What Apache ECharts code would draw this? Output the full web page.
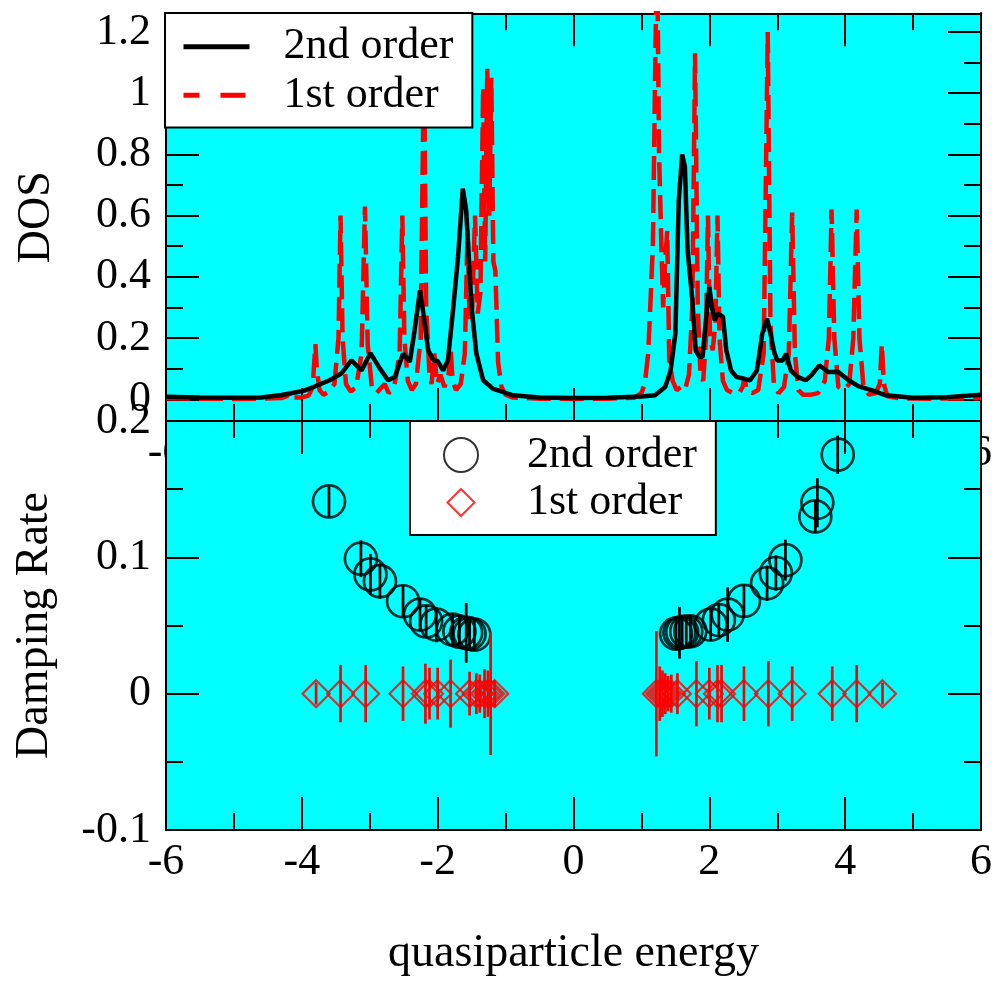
<!DOCTYPE html>
<html><head><meta charset="utf-8">
<script src="https://cdn.jsdelivr.net/npm/echarts@6/dist/echarts.min.js"></script>
<style>html,body{margin:0;padding:0;background:#fff}#c{width:995px;height:981px}</style>
</head><body><div id="c"></div>
<script>
// ---- DOS, 2nd order (black solid) ----
const dosE2 = [-6.0,-5.5,-5.0,-4.6,-4.3,-4.0,-3.83,-3.59,-3.42,-3.27,
  -3.12,-2.99,-2.85,-2.73,-2.63,-2.51,-2.41,-2.34,-2.26,-2.21,
  -2.14,-2.06,-2.00,-1.92,-1.85,-1.77,-1.70,-1.63,-1.58,-1.50,
  -1.43,-1.33,-1.19,-0.89,-0.5,0,0.5,1.0,1.2,1.35,
  1.43,1.50,1.55,1.60,1.64,1.68,1.75,1.80,1.85,1.90,
  1.95,2.00,2.04,2.08,2.12,2.20,2.25,2.32,2.40,2.60,
  2.70,2.78,2.85,2.90,2.96,3.00,3.08,3.13,3.20,3.30,
  3.42,3.50,3.62,3.75,3.90,4.05,4.20,4.40,4.60,5.0,
  5.5,6.0];
const dos2 = [0.008,0.006,0.005,0.006,0.014,0.026,0.040,0.062,0.084,0.127,
  0.094,0.151,0.100,0.062,0.073,0.149,0.122,0.225,0.356,0.280,
  0.160,0.127,0.125,0.094,0.127,0.300,0.465,0.688,0.617,0.300,
  0.149,0.062,0.035,0.013,0.006,0.004,0.005,0.009,0.013,0.040,
  0.094,0.215,0.650,0.800,0.760,0.487,0.323,0.160,0.140,0.138,
  0.258,0.367,0.300,0.258,0.280,0.270,0.160,0.094,0.073,0.062,
  0.094,0.215,0.263,0.215,0.150,0.127,0.127,0.149,0.094,0.073,
  0.062,0.078,0.111,0.089,0.089,0.062,0.042,0.029,0.013,0.005,
  0.007,0.015];

// ---- DOS, 1st order (red dashed) ----
const dosE1 = [-6.0,-5.5,-5.0,-4.6,-4.3,-4.22,-4.18,-4.12,-4.0,-3.9,
  -3.84,-3.80,-3.78,-3.74,-3.68,-3.6,-3.52,-3.46,-3.43,-3.40,
  -3.35,-3.28,-3.2,-3.12,-3.07,-3.03,-2.97,-2.9,-2.84,-2.78,
  -2.72,-2.64,-2.56,-2.52,-2.49,-2.44,-2.38,-2.32,-2.25,-2.20,
  -2.17,-2.12,-2.09,-2.05,-2.01,-1.96,-1.90,-1.84,-1.81,-1.78,
  -1.73,-1.66,-1.60,-1.56,-1.53,-1.49,-1.45,-1.41,-1.37,-1.33,
  -1.30,-1.27,-1.24,-1.21,-1.18,-1.15,-1.11,-1.06,-1.0,-0.9,
  -0.5,0,0.5,0.9,1.0,1.05,1.10,1.14,1.17,1.20,
  1.23,1.26,1.29,1.32,1.35,1.38,1.41,1.46,1.52,1.58,
  1.64,1.70,1.75,1.79,1.83,1.87,1.91,1.95,1.98,2.01,
  2.05,2.09,2.12,2.15,2.20,2.26,2.35,2.44,2.49,2.52,
  2.55,2.63,2.72,2.80,2.86,2.90,2.95,3.02,3.10,3.17,
  3.22,3.26,3.31,3.38,3.5,3.6,3.7,3.76,3.80,3.84,
  3.9,3.98,4.06,4.12,4.17,4.21,4.27,4.35,4.45,4.51,
  4.54,4.57,4.62,4.8,5.3,5.8,6.0];
const dos1 = [0.003,0.002,0.001,0.002,0.004,0.01,0.02,0.006,0.006,0.012,
  0.04,0.18,0.10,0.03,0.015,0.025,0.05,0.2,0.60,0.2,
  0.05,0.025,0.04,0.15,0.63,0.18,0.04,0.02,0.035,0.05,
  0.02,0.04,0.15,0.60,0.2,0.06,0.03,0.05,0.2,1.15,
  0.3,0.08,0.05,0.15,0.05,0.08,0.04,0.08,0.17,0.06,
  0.03,0.05,0.15,0.55,0.25,0.30,0.60,0.28,0.35,1.02,
  0.45,1.08,0.6,1.05,0.45,0.42,0.12,0.04,0.015,0.006,
  0.002,0.001,0.002,0.005,0.02,0.05,0.15,0.35,0.51,1.03,
  1.5,0.8,0.54,0.30,0.45,0.55,0.13,0.06,0.03,0.04,
  0.03,0.08,0.3,1.13,0.3,0.08,0.06,0.2,0.60,0.2,
  0.16,0.25,0.60,0.2,0.06,0.03,0.02,0.02,0.04,0.07,
  0.03,0.02,0.03,0.15,1.20,0.25,0.05,0.02,0.04,0.15,
  0.61,0.15,0.03,0.015,0.015,0.02,0.06,0.2,0.62,0.2,
  0.04,0.03,0.05,0.2,0.62,0.2,0.04,0.015,0.02,0.05,
  0.18,0.05,0.01,0.003,0.002,0.003,0.004];

// ---- Damping rate, 2nd order (black circles with error bars) ----
const dampE2 = [-3.60,-3.13,-2.99,-2.85,-2.51,-2.26,-2.17,-2.02,-1.78,-1.68,
  -1.58,-1.53,-1.46,1.51,1.56,1.60,1.66,1.72,2.02,2.14,
  2.27,2.51,2.85,2.98,3.12,3.56,3.59,3.89];
const damp2 = [0.141,0.099,0.0875,0.0825,0.0678,0.058,0.053,0.0507,0.047,0.0455,
  0.0446,0.044,0.0433,0.044,0.0447,0.0452,0.0455,0.0458,0.0507,0.054,
  0.058,0.068,0.081,0.0885,0.098,0.130,0.140,0.1753];
const err2 = [0.011,0.0135,0.015,0.013,0.012,0.012,0.012,0.013,0.012,0.012,
  0.022,0.012,0.012,0.012,0.019,0.012,0.012,0.012,0.012,0.012,
  0.02,0.012,0.013,0.013,0.015,0.012,0.018,0.014];

// ---- Damping rate, 1st order (red diamonds with error bars) ----
const dampE1 = [-3.79,-3.43,-3.06,-2.51,-2.18,-2.12,-2.00,-1.81,-1.53,-1.43,
  -1.38,-1.31,-1.26,-1.22,-1.16,1.22,1.27,1.31,1.35,1.39,
  1.44,1.53,1.81,2.00,2.12,2.18,2.51,2.87,3.22,3.81,
  4.17,4.55];
const damp1 = [0,0,0,0,0,0,0,0,0,0,
  0,0,0,0,0,0,0,0,0,0,
  0,0,0,0,0,0,0,0,0,0,
  0,0];
const err1 = [0.008,0.021,0.021,0.020,0.022,0.019,0.019,0.025,0.016,0.015,
  0.014,0.018,0.017,0.045,0.010,0.046,0.02,0.017,0.015,0.013,
  0.014,0.015,0.024,0.019,0.021,0.021,0.020,0.024,0.020,0.020,
  0.021,0.008];

// ---- ticks / labels ----
const xTicks = [-6,-4,-2,0,2,4,6];
const dosTicks = [0,0.2,0.4,0.6,0.8,1,1.2];
const dosMinorTicks = [0.1,0.3,0.5,0.7,0.9,1.1];
const dampTicks = [-0.1,0,0.1,0.2];
const legendText = {dos2:'2nd order', dos1:'1st order', damp2:'2nd order', damp1:'1st order'};

const FONT = 'Liberation Serif';
const BLACK = '#000', RED = '#ff0000', CYAN = '#00ffff';
const dosRange = [-0.071, 1.261];

const chart = echarts.init(document.getElementById('c'), null, {renderer: 'canvas'});

const axLine = {show: true, onZero: false, lineStyle: {color: BLACK, width: 2}};
const lbl = (show, margin) => ({show, margin, fontSize: 44, fontFamily: FONT, color: BLACK});

function xAx(grid, pos, showLabel, z, extra) {
  return Object.assign({
    type: 'value', gridIndex: grid, position: pos, min: xTicks[0], max: xTicks[xTicks.length-1], interval: 2, z,
    axisLine: axLine,
    axisTick: {show: true, inside: true, length: 33, lineStyle: {color: BLACK, width: 2}},
    minorTick: {show: true, splitNumber: 2, length: 17, lineStyle: {color: BLACK, width: 2}},
    axisLabel: lbl(showLabel, 10),
    splitLine: {show: false}, minorSplitLine: {show: false}
  }, extra || {});
}
function yTop(pos, ticks, len, showLabel, extra) {
  return Object.assign({
    type: 'value', gridIndex: 0, position: pos, min: dosRange[0], max: dosRange[1], z: 1,
    axisLine: axLine,
    axisTick: {show: true, inside: true, length: len, customValues: ticks, lineStyle: {color: BLACK, width: 2}},
    minorTick: {show: false},
    axisLabel: Object.assign(lbl(showLabel, 15), {customValues: ticks}),
    splitLine: {show: false}
  }, extra || {});
}
function yBot(pos, showLabel, extra) {
  return Object.assign({
    type: 'value', gridIndex: 1, position: pos, min: dampTicks[0], max: dampTicks[dampTicks.length-1], interval: 0.1, z: 4,
    axisLine: axLine,
    axisTick: {show: true, inside: true, length: 33, lineStyle: {color: BLACK, width: 2}},
    minorTick: {show: true, splitNumber: 2, length: 17, lineStyle: {color: BLACK, width: 2}},
    axisLabel: lbl(showLabel, 15),
    splitLine: {show: false}, minorSplitLine: {show: false}
  }, extra || {});
}
const nameStyle = {fontSize: 46, fontFamily: FONT, color: BLACK};

const errRender = (color, w) => (params, api) => {
  const x = api.value(0), y = api.value(1), e = api.value(2);
  const a = api.coord([x, y - e]), b = api.coord([x, y + e]);
  return {type: 'line', shape: {x1: a[0], y1: a[1], x2: b[0], y2: b[1]}, style: {stroke: color, lineWidth: w}};
};

const option = {
  animation: false,
  backgroundColor: '#fff',
  grid: [
    {show: true, z: 0, left: 166, right: 12.3, top: 13.3, height: 407.7, backgroundColor: CYAN, borderWidth: 0},
    {show: true, z: 3, left: 166, right: 12.3, top: 421, height: 409, backgroundColor: CYAN, borderWidth: 0}
  ],
  xAxis: [
    xAx(0, 'bottom', true, 1),
    xAx(0, 'top', false, 1),
    xAx(1, 'bottom', true, 4, {name: 'quasiparticle energy', nameLocation: 'middle', nameGap: 101, nameTextStyle: nameStyle}),
    xAx(1, 'top', false, 4)
  ],
  yAxis: [
    yTop('left', dosTicks, 33, true, {name: 'DOS', nameLocation: 'middle', nameGap: 106, nameRotate: 90, nameTextStyle: nameStyle}),
    yTop('left', dosMinorTicks, 17, false),
    yTop('right', dosTicks, 33, false),
    yTop('right', dosMinorTicks, 17, false),
    yBot('left', true, {name: 'Damping Rate', nameLocation: 'middle', nameGap: 108, nameRotate: 90, nameTextStyle: nameStyle}),
    yBot('right', false)
  ],
  legend: [
    {
      z: 10, left: 165, top: 13, orient: 'vertical', selectedMode: false,
      data: [
        {name: 'dos2', lineStyle: {width: 5}},
        {name: 'dos1', lineStyle: {width: 5, type: [16, 21, 25, 4]}}
      ],
      formatter: n => legendText[n],
      itemWidth: 66, itemHeight: 20, itemGap: 0, padding: [9.5, 19, 8, 16],
      itemStyle: {opacity: 0, borderWidth: 0},
      backgroundColor: '#fff', borderColor: BLACK, borderWidth: 2, borderRadius: 0,
      textStyle: {fontSize: 44, fontFamily: FONT, color: BLACK, lineHeight: 48.5, padding: [0, 0, 0, 29]}
    },
    {
      z: 10, left: 410, top: 421, orient: 'vertical', selectedMode: false,
      data: [{name: 'damp2'}, {name: 'damp1', icon: 'path://M0,0L0,0M34,34L34,34M17,3.5L30.5,17L17,30.5L3.5,17Z'}],
      formatter: n => legendText[n],
      itemWidth: 34, itemHeight: 34, itemGap: 0, padding: [10.25, 19, 8.75, 33],
      backgroundColor: '#fff', borderColor: BLACK, borderWidth: 2, borderRadius: 0,
      textStyle: {fontSize: 44, fontFamily: FONT, color: BLACK, lineHeight: 47.5, padding: [0, 0, 0, 44]}
    }
  ],
  series: [
    {name: 'dos1', type: 'line', xAxisIndex: 0, yAxisIndex: 0, z: 2, symbol: 'none', clip: true,
     data: dosE1.map((x, i) => [x, dos1[i]]),
     lineStyle: {color: RED, width: 4.5, type: [24, 9]}, itemStyle: {color: RED}},
    {name: 'dos2', type: 'line', xAxisIndex: 0, yAxisIndex: 0, z: 3, symbol: 'none', clip: true,
     data: dosE2.map((x, i) => [x, dos2[i]]),
     lineStyle: {color: BLACK, width: 4.5}, itemStyle: {color: BLACK}},
    {name: 'damp2', type: 'scatter', xAxisIndex: 2, yAxisIndex: 4, z: 5, symbol: 'circle', symbolSize: 32,
     data: dampE2.map((x, i) => [x, damp2[i]]),
     itemStyle: {color: 'rgba(0,0,0,0)', borderColor: BLACK, borderWidth: 2.7}},
    {name: 'err2', type: 'custom', xAxisIndex: 2, yAxisIndex: 4, z: 6, silent: true,
     data: dampE2.map((x, i) => [x, damp2[i], err2[i]]), encode: {x: 0, y: 1},
     renderItem: errRender(BLACK, 2.7)},
    {name: 'damp1', type: 'scatter', xAxisIndex: 2, yAxisIndex: 4, z: 7, symbol: 'diamond', symbolSize: 27,
     data: dampE1.map((x, i) => [x, damp1[i]]),
     itemStyle: {color: 'rgba(0,0,0,0)', borderColor: RED, borderWidth: 2.2}},
    {name: 'err1', type: 'custom', xAxisIndex: 2, yAxisIndex: 4, z: 8, silent: true,
     data: dampE1.map((x, i) => [x, damp1[i], err1[i]]), encode: {x: 0, y: 1},
     renderItem: errRender(RED, 2.7)}
  ]
};
chart.setOption(option);
</script>
</body></html>
